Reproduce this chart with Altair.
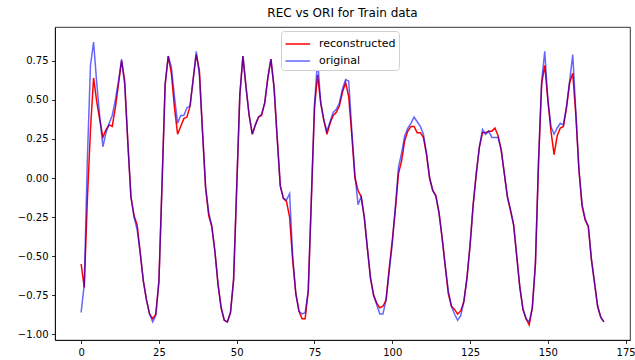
import altair as alt
import pandas as pd

idx = list(range(169))

reconstructed = [
    -0.55, -0.70, -0.14, 0.31, 0.64, 0.49, 0.37, 0.26, 0.31, 0.34,
    0.33, 0.45, 0.60, 0.75, 0.62, 0.23, -0.12, -0.24, -0.30, -0.48,
    -0.66, -0.78, -0.87, -0.90, -0.87, -0.66, -0.04, 0.60, 0.78, 0.67,
    0.45, 0.28, 0.33, 0.38, 0.39, 0.46, 0.63, 0.79, 0.69, 0.30,
    -0.06, -0.24, -0.31, -0.47, -0.68, -0.83, -0.91, -0.92, -0.86, -0.65,
    -0.06, 0.53, 0.78, 0.58, 0.40, 0.28, 0.34, 0.39, 0.40, 0.48,
    0.64, 0.76, 0.58, 0.26, -0.05, -0.13, -0.15, -0.25, -0.53, -0.74,
    -0.85, -0.90, -0.90, -0.72, -0.13, 0.45, 0.66, 0.48, 0.37, 0.28,
    0.35, 0.40, 0.42, 0.46, 0.55, 0.61, 0.52, 0.27, 0.00, -0.08,
    -0.12, -0.25, -0.45, -0.64, -0.75, -0.80, -0.83, -0.82, -0.78, -0.58,
    -0.40, -0.20, 0.03, 0.11, 0.24, 0.30, 0.33, 0.33, 0.29, 0.29,
    0.26, 0.15, 0.00, -0.08, -0.11, -0.22, -0.38, -0.56, -0.74, -0.82,
    -0.84, -0.87, -0.85, -0.79, -0.64, -0.43, -0.17, 0.03, 0.20, 0.29,
    0.29, 0.30, 0.30, 0.32, 0.27, 0.18, 0.03, -0.12, -0.21, -0.30,
    -0.50, -0.70, -0.84, -0.90, -0.94, -0.83, -0.55, 0.10, 0.60, 0.72,
    0.50, 0.30, 0.15, 0.27, 0.32, 0.33, 0.45, 0.61, 0.67, 0.40,
    0.05, -0.18, -0.27, -0.31, -0.52, -0.67, -0.82, -0.89, -0.92,
]

original = [
    -0.86, -0.68, 0.12, 0.72, 0.87, 0.61, 0.39, 0.20, 0.29, 0.35,
    0.40, 0.50, 0.62, 0.76, 0.60, 0.23, -0.12, -0.25, -0.33, -0.48,
    -0.66, -0.78, -0.87, -0.92, -0.88, -0.66, -0.04, 0.60, 0.78, 0.71,
    0.52, 0.35, 0.40, 0.40, 0.45, 0.46, 0.63, 0.81, 0.66, 0.30,
    -0.06, -0.22, -0.31, -0.47, -0.68, -0.83, -0.91, -0.92, -0.86, -0.65,
    -0.06, 0.53, 0.78, 0.58, 0.40, 0.28, 0.34, 0.39, 0.41, 0.48,
    0.64, 0.76, 0.58, 0.26, -0.05, -0.13, -0.14, -0.10, -0.50, -0.74,
    -0.85, -0.87, -0.86, -0.72, -0.13, 0.47, 0.76, 0.48, 0.37, 0.30,
    0.36, 0.42, 0.44, 0.48, 0.57, 0.63, 0.62, 0.30, 0.02, -0.17,
    -0.12, -0.25, -0.45, -0.64, -0.75, -0.81, -0.87, -0.87, -0.78, -0.60,
    -0.42, -0.18, 0.07, 0.16, 0.27, 0.32, 0.35, 0.39, 0.36, 0.33,
    0.28, 0.16, 0.00, -0.08, -0.12, -0.22, -0.38, -0.56, -0.72, -0.82,
    -0.87, -0.91, -0.88, -0.79, -0.64, -0.43, -0.17, 0.03, 0.20, 0.31,
    0.28, 0.30, 0.26, 0.26, 0.26, 0.18, 0.03, -0.12, -0.20, -0.30,
    -0.50, -0.70, -0.84, -0.90, -0.92, -0.83, -0.55, 0.10, 0.62, 0.81,
    0.50, 0.33, 0.28, 0.32, 0.35, 0.34, 0.46, 0.62, 0.79, 0.42,
    0.05, -0.17, -0.26, -0.31, -0.52, -0.67, -0.82, -0.89, -0.92,
]

series_names = ["reconstructed", "original"]
series_colors = ["#ff0000", "#0000ff"]
series_opacity = [1.0, 0.6]
x_ticks = [0, 25, 50, 75, 100, 125, 150, 175]
y_ticks = [-1.0, -0.75, -0.5, -0.25, 0.0, 0.25, 0.5, 0.75]

n = len(idx)
df = pd.DataFrame({
    "index": idx + idx,
    "value": reconstructed + original,
    "series": [series_names[0]] * n + [series_names[1]] * n,
})

FONT = "DejaVu Sans"

legend = alt.Legend(
    title=None,
    orient="none",
    legendX=226,
    legendY=4,
    symbolType="M-1,0H1.9",
    symbolSize=289,
    symbolStrokeWidth=1.5,
    labelFont=FONT,
    labelFontSize=11,
    labelColor="black",
    labelOffset=15.5,
    strokeColor="#d0d0d0",
    fillColor="white",
    padding=3.5,
    cornerRadius=3,
    rowPadding=2,
)

base = alt.Chart(df).mark_line(strokeWidth=1.5).encode(
    x=alt.X(
        "index:Q",
        scale=alt.Scale(domain=[-8.4, 176.4], nice=False, zero=False),
        axis=alt.Axis(values=x_ticks, title=None, grid=False, format="d"),
    ),
    y=alt.Y(
        "value:Q",
        scale=alt.Scale(domain=[-1.036, 0.966], nice=False, zero=False),
        axis=alt.Axis(values=y_ticks, title=None, grid=False, format=".2f"),
    ),
    color=alt.Color(
        "series:N",
        scale=alt.Scale(domain=series_names, range=series_colors),
        legend=legend,
    ),
    opacity=alt.Opacity(
        "series:N",
        scale=alt.Scale(domain=series_names, range=series_opacity),
        legend=legend,
    ),
)

red = base.transform_filter(alt.datum.series == series_names[0])
blue = base.transform_filter(alt.datum.series == series_names[1])

chart = alt.layer(red, blue).properties(
    width=575,
    height=313,
    title=alt.TitleParams(
        "REC vs ORI for Train data",
        font=FONT,
        fontSize=12,
        fontWeight="normal",
        color="black",
        anchor="middle",
        offset=7,
    ),
    autosize=alt.AutoSizeParams(type="none"),
    padding={"left": 55, "top": 27, "right": 5, "bottom": 20},
).configure_view(
    stroke="black", strokeWidth=0.8
).configure_axis(
    domainColor="black",
    domainWidth=0.8,
    tickColor="black",
    tickWidth=0.8,
    tickSize=3.5,
    labelFont=FONT,
    labelFontSize=10,
    labelColor="black",
    labelPadding=3.5,
)

chart.save("out.html", embed_options={"renderer": "svg", "actions": False})
